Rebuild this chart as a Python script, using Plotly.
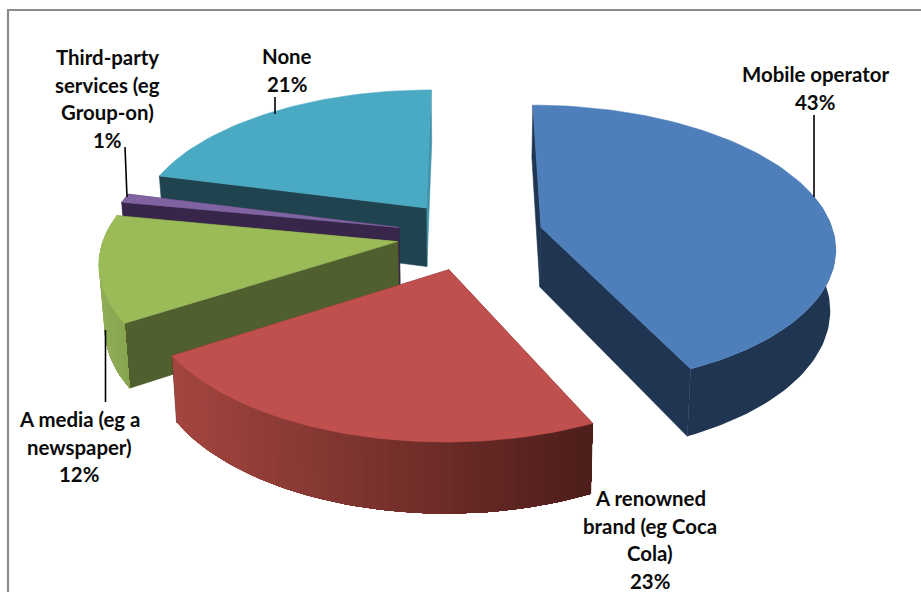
import math
import plotly.graph_objects as go

# Survey shares, clockwise from the back of the pie
categories = ["Mobile operator", "A renowned brand", "A media", "Third-party services", "None"]
shares = [43, 23, 12, 1, 21]

label_lines = [
    ["Mobile operator", "43%"],
    ["A renowned", "brand (eg Coca", "Cola)", "23%"],
    ["A media (eg a", "newspaper)", "12%"],
    ["Third-party", "services (eg", "Group-on)", "1%"],
    ["None", "21%"],
]

# Placement of the callouts: first-line centre and line pitch
label_anchor = [(815, 74), (650, 498), (79, 419), (107, 57), (287, 56)]
line_pitch = 27.5
leaders = [((814, 115), (814, 197)), None, ((105.5, 330), (105.5, 402)),
           ((125, 147), (127, 197)), ((275, 97), (275, 114))]

# Colours: top face, cut faces at the start and end angle, rim (by screen x)
top_col = ["#4e7fba", "#bf504d", "#9bbb59", "#8064a2", "#4aa9c3"]
cut_start = ["#1f3552", "#5e2624", "#4f5f2d", "#37264a", "#1f4450"]
cut_end = ["#1f3552", "#5e2624", "#4f5f2d", "#37264a", "#3f93aa"]
rim_col = [("#1f3552", "#1f3552"), ("#a3453f", "#4c1d1a"), ("#90ae56", "#86a450"),
           ("#37264a", "#37264a"), ("#1f4450", "#1f4450")]

# Perspective camera for the tilted disc; the underside sits slightly further away
CX, CY = 470, 235
SCALE_X, SCALE_Y, DEPTH = 293, 140, 60
PERSPECTIVE = 0.13
UNDERSIDE_SHRINK = 0.985
EXPLODE = 0.25
RIM_FACING = -0.25  # rim parts turned further back than this stay out of sight
DRAW_ORDER = [4, 3, 2, 0, 1]  # back to front


def project(px, py, low=False):
    w = 1 - PERSPECTIVE * py
    spread = UNDERSIDE_SHRINK if low else 1
    return CX + SCALE_X * px * spread / w, CY + (SCALE_Y * py + (DEPTH if low else 0)) / w


def rgb(c):
    return [int(c[i:i + 2], 16) for i in (1, 3, 5)]


def mix(a, b, t):
    return "rgb(%d,%d,%d)" % tuple(round(p + (q - p) * t) for p, q in zip(rgb(a), rgb(b)))


def polygon(points, colour, outline=0.6):
    xs, ys = zip(*points)
    return go.Scatter(x=list(xs) + [xs[0]], y=list(ys) + [ys[0]], mode="lines", fill="toself",
                      fillcolor=colour, line=dict(color=colour, width=outline),
                      hoverinfo="skip", showlegend=False)


def band(path, colour):
    """Rim strip following a run of disc-edge points, closed along its lower edge."""
    upper = [project(*p) for p in path]
    lower = [project(*p, low=True) for p in reversed(path)]
    return polygon(upper + lower, colour, outline=0)


total = sum(shares)
edges = [0]
for s in shares:
    edges.append(edges[-1] + 360 * s / total)

traces = []
for i in DRAW_ORDER:
    t0, t1 = edges[i], edges[i + 1]
    mid = math.radians((t0 + t1) / 2)
    ox, oy = EXPLODE * math.sin(mid), -EXPLODE * math.cos(mid)
    n = max(3, int((t1 - t0) / 1.5))
    ang = [math.radians(t0 + (t1 - t0) * j / n) for j in range(n + 1)]
    rim = [(ox + math.sin(a), oy - math.cos(a)) for a in ang]
    apex = (ox, oy)

    # Cut faces first, then the viewer-facing rim, and the top face over everything
    for end, colour in ((rim[-1], cut_end[i]), (rim[0], cut_start[i])):
        traces.append(polygon([project(*apex), project(*end), project(*end, low=True),
                               project(*apex, low=True)], colour))

    front = [(ox + math.sin(a), oy - math.cos(a)) for a in ang if -math.cos(a) >= RIM_FACING]
    if len(front) >= 2:
        xs = [project(*p)[0] for p in front]
        lo, hi = min(xs), max(xs)
        first, last = rim_col[i]
        ordered = front[::-1] if xs[0] > xs[-1] else front
        if first == last:
            traces.append(band(front, first))
        else:
            # Each strip runs on to the far end of the rim, so neighbours never leave a seam
            for j in range(len(ordered) - 1):
                t = (project(*ordered[j])[0] - lo) / (hi - lo)
                traces.append(band(ordered[j:], mix(first, last, t)))

    traces.append(polygon([project(*apex)] + [project(*p) for p in rim], top_col[i]))

# Callout leaders
for seg in leaders:
    if seg:
        traces.append(go.Scatter(x=[seg[0][0], seg[1][0]], y=[seg[0][1], seg[1][1]], mode="lines",
                                 line=dict(color="#000000", width=1.6),
                                 hoverinfo="skip", showlegend=False))

# Chart frame, open to the right and bottom
traces.append(go.Scatter(x=[8, 8, 921], y=[592, 10, 10], mode="lines",
                         line=dict(color="#8c8c8c", width=2.2),
                         hoverinfo="skip", showlegend=False))

annotations = []
for lines, (ax, ay) in zip(label_lines, label_anchor):
    for k, text in enumerate(lines):
        annotations.append(dict(x=ax, y=ay + k * line_pitch, text=text, showarrow=False,
                                xanchor="center", yanchor="middle",
                                font=dict(family="Lato", size=20.4, color="#0a0a0a", weight=700)))

fig = go.Figure(traces)
fig.update_layout(
    width=921, height=592, margin=dict(l=0, r=0, t=0, b=0),
    paper_bgcolor="#ffffff", plot_bgcolor="#ffffff",
    xaxis=dict(range=[0, 921], visible=False, fixedrange=True),
    yaxis=dict(range=[592, 0], visible=False, fixedrange=True),
    annotations=annotations,
)
fig.write_html("out.html", config={"displayModeBar": False})
